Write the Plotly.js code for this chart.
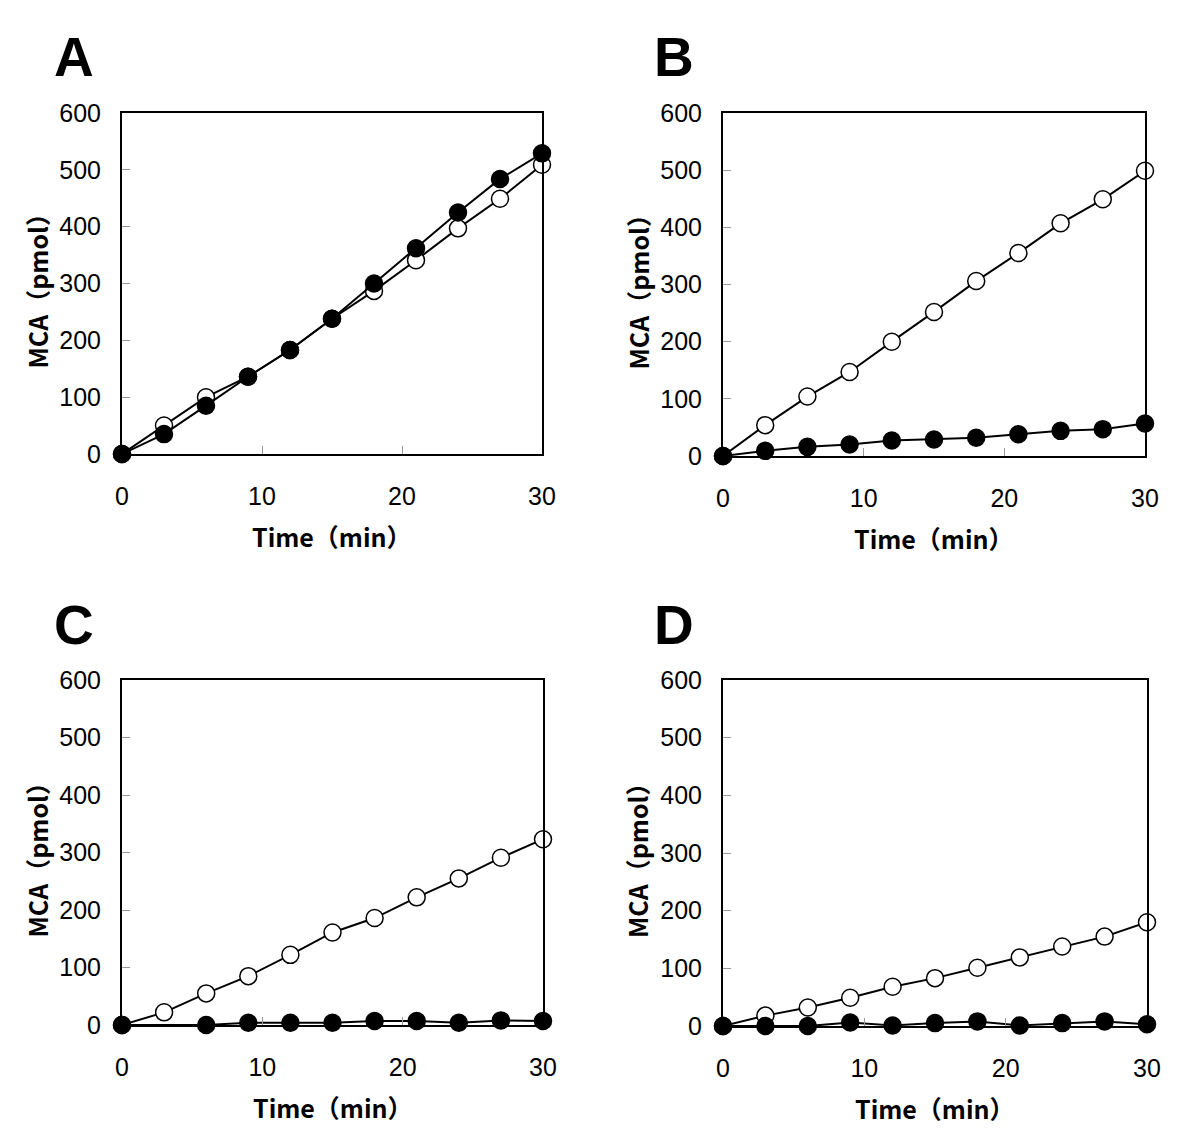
<!DOCTYPE html>
<html>
<head>
<meta charset="utf-8">
<script src="https://cdn.plot.ly/plotly-3.0.1.min.js"></script>
<style>html,body{margin:0;padding:0;background:#fff;}#chart{width:1200px;height:1148px;}</style>
</head>
<body>
<div id="chart"></div>
<script>
const time = [0, 3, 6, 9, 12, 15, 18, 21, 24, 27, 30];
const panelLabels = ["A", "B", "C", "D"];
const xTickVals = [0, 10, 20, 30];
const yTickVals = [0, 100, 200, 300, 400, 500, 600];
const xTitle = "Time（min）";
const yTitle = "MCA（pmol）";

const openA   = [0, 50, 100, 136, 183, 238, 287, 341, 397, 449, 509];
const filledA = [0, 35, 85, 136, 183, 238, 300, 362, 425, 484, 529];
const openB   = [0, 54, 104, 147, 200, 252, 306, 355, 407, 449, 499];
const filledB = [0, 9, 16, 20, 27, 29, 32, 38, 44, 47, 57];
const openC   = [0, 22, 55, 85, 122, 161, 186, 222, 255, 291, 323];
const filledC = [0, null, 0, 4, 4, 4, 7, 7, 4, 8, 7];
const openD   = [0, 18, 32, 49, 68, 83, 101, 119, 138, 155, 180];
const filledD = [0, 0, 0, 6, 1, 5, 8, 1, 5, 8, 3];

const openSeries = [openA, openB, openC, openD];
const filledSeries = [filledA, filledB, filledC, filledD];

const W = 1200, H = 1148;
// panel pixel boxes [left, right, top, bottom]
const boxes = [
  [122, 542, 113, 454],
  [723, 1145, 113, 456],
  [122, 543, 680, 1025],
  [723, 1147, 680, 1026]
];
const letterPos = [[52, 57], [652, 57], [52, 625], [652, 625]];

const traces = [];
const layout = {
  width: W, height: H,
  margin: {l: 0, r: 0, t: 0, b: 0},
  paper_bgcolor: "#fff", plot_bgcolor: "#fff",
  showlegend: false,
  annotations: []
};

const tickFont = {family: "Liberation Sans, Arial, sans-serif", size: 25, color: "#000"};
const titleFont = {family: "Noto Sans CJK JP, sans-serif", size: 25, color: "#000", weight: "bold"};

boxes.forEach((b, i) => {
  const n = i + 1;
  const xa = "x" + (n === 1 ? "" : n), ya = "y" + (n === 1 ? "" : n);
  const xk = "xaxis" + (n === 1 ? "" : n), yk = "yaxis" + (n === 1 ? "" : n);
  layout[xk] = {
    domain: [b[0] / W, b[1] / W], range: [0, 30], anchor: ya,
    showline: true, mirror: true, linecolor: "#000", linewidth: 2,
    showgrid: false, zeroline: false,
    tickvals: xTickVals, ticks: "inside", ticklen: 8, tickwidth: 1, tickcolor: "#999",
    tickfont: tickFont, ticklabelstandoff: 19, fixedrange: true
  };
  layout[yk] = {
    domain: [1 - b[3] / H, 1 - b[2] / H], range: [0, 600], anchor: xa,
    showline: true, mirror: true, linecolor: "#000", linewidth: 2,
    showgrid: false, zeroline: false,
    tickvals: yTickVals, ticks: "inside", ticklen: 8, tickwidth: 1, tickcolor: "#999",
    tickfont: tickFont, ticklabelstandoff: 14, fixedrange: true
  };
  traces.push({
    x: time, y: openSeries[i], xaxis: xa, yaxis: ya, type: "scatter", mode: "lines+markers",
    line: {color: "#000", width: 2}, cliponaxis: false, connectgaps: true,
    marker: {symbol: "circle", size: 17, color: "#fff", line: {color: "#000", width: 1.5}}
  });
  traces.push({
    x: time, y: filledSeries[i], xaxis: xa, yaxis: ya, type: "scatter", mode: "lines+markers",
    line: {color: "#000", width: 2}, cliponaxis: false, connectgaps: true,
    marker: {symbol: "circle", size: 17, color: "#000", line: {color: "#000", width: 1.5}}
  });
  // panel letter
  layout.annotations.push({
    text: "<b>" + panelLabels[i] + "</b>", xref: "paper", yref: "paper",
    x: letterPos[i][0] / W, y: 1 - letterPos[i][1] / H, xanchor: "left", yanchor: "middle",
    showarrow: false, font: {family: "Liberation Sans, Arial, sans-serif", size: 55, color: "#000"}
  });
  // x title
  layout.annotations.push({
    text: xTitle, xref: "paper", yref: "paper",
    x: ((b[0] + b[1]) / 2) / W, y: 1 - (b[3] + 82) / H, xanchor: "center", yanchor: "middle",
    showarrow: false, font: titleFont
  });
  // y title
  layout.annotations.push({
    text: yTitle, xref: "paper", yref: "paper", textangle: -90,
    x: (b[0] - 86) / W, y: 1 - ((b[2] + b[3]) / 2 + 2) / H, xanchor: "center", yanchor: "middle",
    showarrow: false, font: titleFont
  });
});

Plotly.newPlot("chart", traces, layout, {staticPlot: true, displayModeBar: false});
</script>
</body>
</html>
